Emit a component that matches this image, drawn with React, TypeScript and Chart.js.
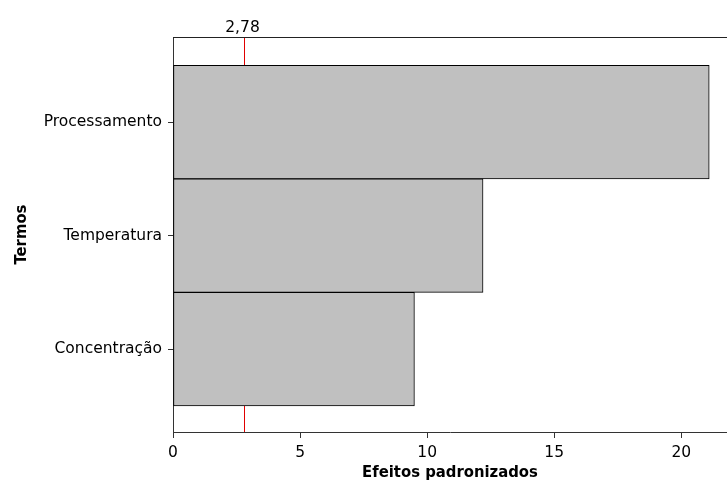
import React, { useEffect, useRef } from "react";
import { Chart, registerables } from "chart.js";

Chart.register(...registerables);

const terms = ["Processamento", "Temperatura", "Concentração"];
const effects = [21.1, 12.2, 9.5];
const xTicks = [0, 5, 10, 15, 20];
const criticalValue = 2.78;
const criticalLabel = "2,78";
const xTitle = "Efeitos padronizados";
const yTitle = "Termos";

const FONT = "'DejaVu Sans', Verdana, sans-serif";
const BOLD_FONT = "'DejaVu Sans Condensed', 'DejaVu Sans', Verdana, sans-serif";

const refPlugin = {
  id: "refPlugin",
  beforeDatasetsDraw(chart: any) {
    const { ctx, chartArea, scales } = chart;
    const x = Math.round(scales.x.getPixelForValue(criticalValue)) + 0.5;
    ctx.save();
    ctx.strokeStyle = "#e00000";
    ctx.lineWidth = 1;
    ctx.beginPath();
    ctx.moveTo(x, chartArea.top);
    ctx.lineTo(x, chartArea.bottom);
    ctx.stroke();
    ctx.restore();
  },
  afterDatasetsDraw(chart: any) {
    const { ctx, chartArea, scales } = chart;
    const x = Math.round(scales.x.getPixelForValue(criticalValue)) + 0.5;
    ctx.save();
    ctx.strokeStyle = "#222";
    ctx.lineWidth = 1;
    ctx.beginPath();
    ctx.moveTo(chartArea.left, chartArea.top + 0.5);
    ctx.lineTo(chartArea.right, chartArea.top + 0.5);
    ctx.stroke();
    ctx.fillStyle = "#000";
    ctx.font = `15.5px ${FONT}`;
    ctx.textAlign = "center";
    ctx.textBaseline = "alphabetic";
    ctx.fillText(criticalLabel, x - 2, chartArea.top - 5);
    ctx.restore();
  },
};

export default function App() {
  const ref = useRef<HTMLCanvasElement>(null);
  useEffect(() => {
    const chart = new Chart(ref.current as HTMLCanvasElement, {
      type: "bar",
      data: {
        datasets: [
          {
            data: terms.map((t, i) => ({ x: effects[i], y: i + 1 })),
            backgroundColor: "#c0c0c0",
            borderColor: "#000",
            borderWidth: 1,
            borderSkipped: false,
            barPercentage: 1,
            categoryPercentage: 1,
          },
        ],
      },
      options: {
        indexAxis: "y",
        animation: false,
        responsive: false,
        maintainAspectRatio: false,
        layout: { padding: { top: 37, right: 0, left: 0, bottom: 0 } },
        plugins: { legend: { display: false }, tooltip: { enabled: false } },
        scales: {
          x: {
            type: "linear",
            min: 0,
            max: 21.8,
            offset: false,
            afterBuildTicks: (s: any) => {
              s.ticks = xTicks.map((v) => ({ value: v }));
            },
            afterFit: (s: any) => {
              s.height = 51;
            },
            grid: { drawOnChartArea: false, offset: false, tickLength: 6, color: "#333" },
            border: { color: "#333", width: 1 },
            ticks: { color: "#000", font: { family: FONT, size: 15.5 }, padding: 6 },
            title: {
              display: true,
              text: xTitle,
              color: "#000",
              font: { family: BOLD_FONT, size: 16.5, weight: "bold" },
              padding: { top: 0, bottom: 0 },
            },
          },
          y: {
            type: "linear",
            reverse: true,
            min: 0.25,
            max: 3.73,
            offset: false,
            afterBuildTicks: (s: any) => {
              s.ticks = terms.map((_, i) => ({ value: i + 1 }));
            },
            afterFit: (s: any) => {
              s.width = 173;
            },
            grid: { drawOnChartArea: false, offset: false, tickLength: 5, color: "#333" },
            border: { color: "#333", width: 1 },
            ticks: {
              color: "#000",
              font: { family: FONT, size: 15.5 },
              padding: 6,
              callback: (v: any) => terms[Math.round(v) - 1] ?? "",
            },
            title: {
              display: true,
              text: yTitle,
              color: "#000",
              font: { family: BOLD_FONT, size: 16.5, weight: "bold" },
              padding: { top: 12, bottom: 0 },
            },
          },
        },
      },
      plugins: [refPlugin],
    } as any);
    return () => chart.destroy();
  }, []);
  return (
    <div style={{ position: "fixed", left: 0, top: 0, width: 727, height: 483, background: "#fff" }}>
      <canvas ref={ref} width={727} height={483} style={{ display: "block", width: 727, height: 483 }} />
    </div>
  );
}
